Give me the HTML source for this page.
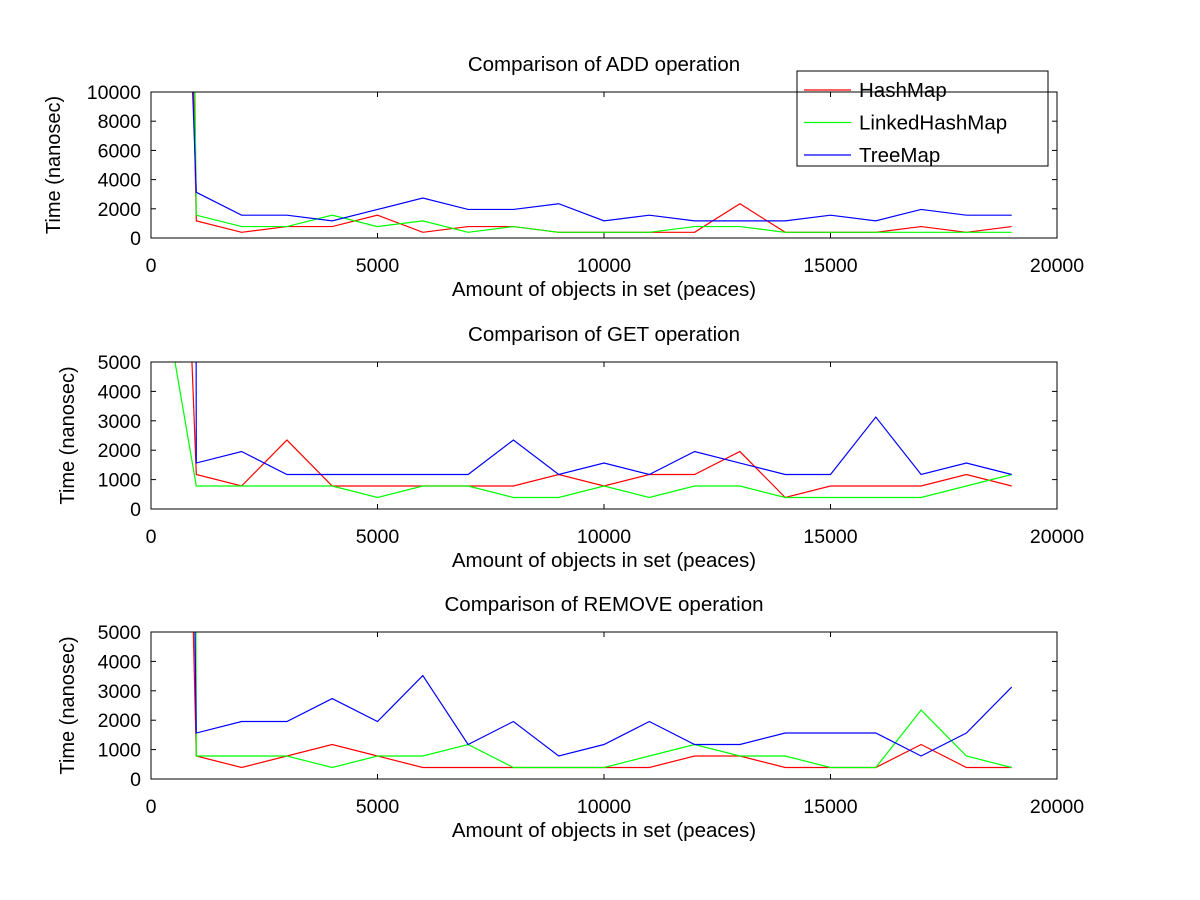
<!DOCTYPE html>
<html><head><meta charset="utf-8"><style>
html,body{margin:0;padding:0;background:#fff;}
svg{display:block;font-family:"Liberation Sans",sans-serif;}
</style></head><body>
<svg id="chart" width="1200" height="900" viewBox="0 0 1200 900" xmlns="http://www.w3.org/2000/svg">
<rect width="1200" height="900" fill="#fff"/>
</svg>
<script>
const xValues = [0,1000,2000,3000,4000,5000,6000,7000,8000,9000,10000,11000,12000,13000,14000,15000,16000,17000,18000,19000];
const seriesNames = ["HashMap","LinkedHashMap","TreeMap"];
const addHash = [150000,1173,391,782,782,1564,391,782,782,391,391,391,391,2346,391,391,391,782,391,782];
const addLinked = [280000,1564,782,782,1564,782,1173,391,782,391,391,391,782,782,391,391,391,391,391,391];
const addTree = [89000,3128,1564,1564,1173,1955,2737,1955,1955,2346,1173,1564,1173,1173,1173,1564,1173,1955,1564,1564];
const getHash = [41000,1173,782,2346,782,782,782,782,782,1173,782,1173,1173,1955,391,782,782,782,1173,782];
const getLinked = [9750,782,782,782,782,391,782,782,391,391,782,391,782,782,391,391,391,391,782,1173];
const getTree = [1000000,1564,1955,1173,1173,1173,1173,1173,2346,1173,1564,1173,1955,1564,1173,1173,3128,1173,1564,1173];
const remHash = [65000,782,391,782,1173,782,391,391,391,391,391,391,782,782,391,391,391,1173,391,391];
const remLinked = [500000,782,782,782,391,782,782,1173,391,391,391,782,1173,782,782,391,391,2346,782,391];
const remTree = [116000,1564,1955,1955,2737,1955,3519,1173,1955,782,1173,1955,1173,1173,1564,1564,1564,782,1564,3128];
const xTicks = [0,5000,10000,15000,20000];
const addYTicks = [0,2000,4000,6000,8000,10000];
const smallYTicks = [0,1000,2000,3000,4000,5000];
const titles = ["Comparison of ADD operation","Comparison of GET operation","Comparison of REMOVE operation"];
const colors = ["#ff0000","#00ff00","#0000ff"];

const NS="http://www.w3.org/2000/svg";
const svg=document.getElementById('chart');
function mk(tag,attrs,parent){const e=document.createElementNS(NS,tag);for(const k in attrs)e.setAttribute(k,attrs[k]);(parent||svg).appendChild(e);return e;}

const panels=[
 {key:"add",top:92,bottom:238,ymax:10000,yTicks:addYTicks,data:[addHash,addLinked,addTree]},
 {key:"get",top:362,bottom:509,ymax:5000,yTicks:smallYTicks,data:[getHash,getLinked,getTree]},
 {key:"remove",top:632,bottom:779,ymax:5000,yTicks:smallYTicks,data:[remHash,remLinked,remTree]}
];
const L=151,R=1057,XMAX=20000;
// legend (drawn first, no fill, so the axes box shows through)
const lg=mk('g',{});


mk('rect',{x:797,y:71,width:251,height:95,fill:'#fff',stroke:'#000','stroke-width':1},lg);
seriesNames.forEach((n,i)=>{
  const y=90+i*32.5;
  const ln=mk('line',{x1:804,y1:y,x2:851,y2:y,stroke:colors[i],'stroke-width':1.2},lg);
  
  
  const t=mk('text',{x:859,y:y+7,'font-size':20.5},lg);
  t.textContent=n;
  
  
});
panels.forEach((p,pi)=>{
  const g=mk('g',{});
  
  
  const xs=v=>L+(R-L)*v/XMAX;
  const ys=v=>p.bottom-(p.bottom-p.top)*v/p.ymax;
  const cp=mk('clipPath',{id:'clip'+pi},g);
  mk('rect',{x:L,y:p.top,width:R-L,height:p.bottom-p.top},cp);
  p.data.forEach((arr,si)=>{
    const pts=arr.map((v,i)=>xs(xValues[i]).toFixed(2)+','+ys(v).toFixed(2)).join(' ');
    const pl=mk('polyline',{points:pts,fill:'none',stroke:colors[si],'stroke-width':1.2,'clip-path':'url(#clip'+pi+')'},g);
    
    
  });
  const box=mk('rect',{x:L,y:p.top,width:R-L,height:p.bottom-p.top,fill:'none',stroke:'#000','stroke-width':1},g);
  
  
  xTicks.forEach(t=>{
    const x=xs(t);
    mk('line',{x1:x,y1:p.bottom,x2:x,y2:p.bottom-5,stroke:'#000'},g);
    mk('line',{x1:x,y1:p.top,x2:x,y2:p.top+5,stroke:'#000'},g);
    const tx=mk('text',{x:x,y:p.bottom+34,'font-size':19.5,'text-anchor':'middle'},g);
    tx.textContent=t;
    
    
  });
  p.yTicks.forEach(t=>{
    const y=ys(t);
    mk('line',{x1:L,y1:y,x2:L+5,y2:y,stroke:'#000'},g);
    mk('line',{x1:R,y1:y,x2:R-5,y2:y,stroke:'#000'},g);
    const tx=mk('text',{x:L-10,y:y+7,'font-size':19.5,'text-anchor':'end'},g);
    tx.textContent=t;
    
    
  });
  const ti=mk('text',{x:604,y:p.top-21,'font-size':20.5,'text-anchor':'middle'},g);
  ti.textContent=titles[pi];
  
  
  const xt=mk('text',{x:604,y:p.bottom+58,'font-size':20.5,'text-anchor':'middle'},g);
  xt.textContent="Amount of objects in set (peaces)";
  
  
  const cy=(p.top+p.bottom)/2;
  const yt=mk('text',{x:0,y:0,'font-size':20,'text-anchor':'middle',transform:'translate('+(pi==0?60:74)+','+cy+') rotate(-90)'},g);
  yt.textContent="Time (nanosec)";
  
  
});
</script>
</body></html>
